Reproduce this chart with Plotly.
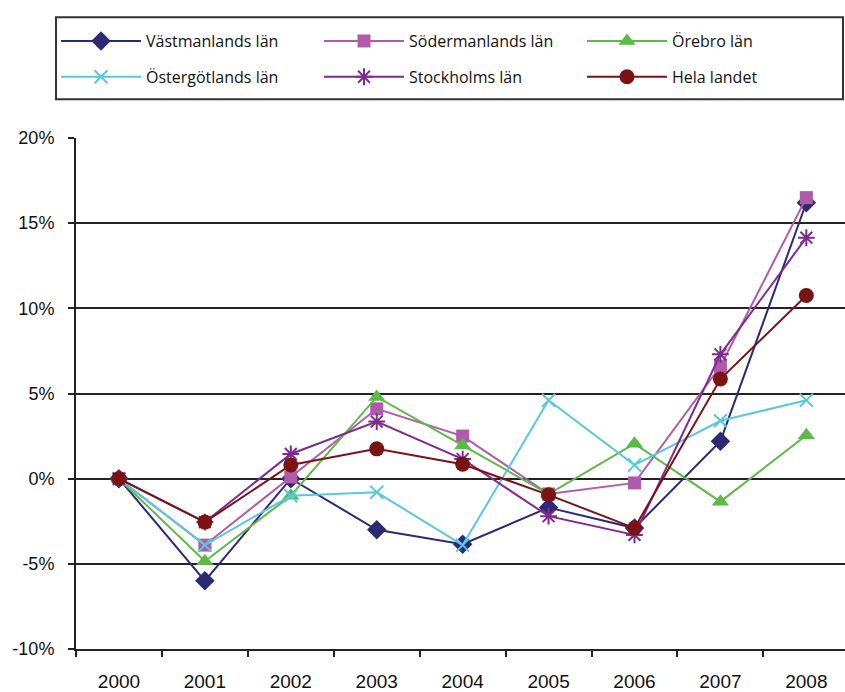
import plotly.graph_objects as go

years = ["2000", "2001", "2002", "2003", "2004", "2005", "2006", "2007", "2008"]

vastmanland = [0, -6.0, 0.0, -3.0, -3.85, -1.7, -2.9, 2.2, 16.2]
sodermanland = [0, -3.9, 0.1, 4.1, 2.5, -0.9, -0.25, 6.6, 16.5]
orebro = [0, -4.85, -1.0, 4.8, 1.95, -0.9, 2.05, -1.35, 2.55]
ostergotland = [0, -3.9, -1.0, -0.8, -3.9, 4.6, 0.8, 3.4, 4.6]
stockholm = [0, -2.55, 1.45, 3.35, 1.15, -2.2, -3.3, 7.3, 14.15]
hela_landet = [0, -2.55, 0.8, 1.75, 0.85, -0.95, -2.9, 5.85, 10.75]

y_ticks = [-10, -5, 0, 5, 10, 15, 20]
y_tick_labels = ["-10%", "-5%", "0%", "5%", "10%", "15%", "20%"]

series = [
    ("Västmanlands län", vastmanland, "#2C2A72", "diamond", 15, "legend"),
    ("Södermanlands län", sodermanland, "#B05BAA", "square", 13, "legend"),
    ("Örebro län", orebro, "#5DBA47", "triangle-up", 15, "legend"),
    ("Östergötlands län", ostergotland, "#5BC7DD", "x-thin", 13, "legend2"),
    ("Stockholms län", stockholm, "#7E2A90", "asterisk", 14, "legend2"),
    ("Hela landet", hela_landet, "#7B1315", "circle", 15, "legend2"),
]

fig = go.Figure()
for name, vals, color, sym, size, leg in series:
    if sym in ("x-thin", "asterisk"):
        marker = dict(symbol=sym, size=size, color=color, line=dict(color=color, width=2))
    else:
        marker = dict(symbol=sym, size=size, color=color, line=dict(width=0))
    fig.add_trace(go.Scatter(
        x=years, y=vals, name=name, mode="lines+markers",
        line=dict(color=color, width=2), marker=marker, legend=leg,
    ))

leg_common = dict(
    orientation="h", xanchor="left", yanchor="middle",
    xref="paper", yref="paper",
    entrywidth=168, entrywidthmode="pixels",
    borderwidth=0, bgcolor="rgba(0,0,0,0)",
    font=dict(family="Open Sans, Liberation Sans, sans-serif", size=16, color="#111"),
    itemwidth=80,
)

fig.update_layout(
    width=845, height=692,
    margin=dict(l=76, r=0, t=138, b=37),
    paper_bgcolor="white", plot_bgcolor="white",
    font=dict(family="Liberation Sans, Arial, sans-serif", size=18, color="#111"),
    legend=dict(x=-0.001, y=1.1897, **leg_common),
    legend2=dict(x=-0.001, y=1.1197, **leg_common),
    showlegend=True,
    shapes=[dict(
        type="rect", xref="paper", yref="paper",
        x0=-0.026, x1=0.9974, y0=1.0760, y1=1.2363,
        line=dict(color="#333", width=2), fillcolor="rgba(0,0,0,0)", layer="above",
    )],
)

fig.update_xaxes(
    type="category", range=[-0.5, 8.45],
    tickson="boundaries", ticks="outside", ticklen=6, tickwidth=2, tickcolor="#222",
    showline=True, linecolor="#222", linewidth=2, showgrid=False, zeroline=False,
    tickfont=dict(size=19), ticklabelstandoff=14, tickangle=0,
)
fig.update_yaxes(
    range=[-10, 20], tickvals=y_ticks, ticktext=y_tick_labels,
    ticks="outside", ticklen=6, tickwidth=2, tickcolor="#222",
    showline=True, linecolor="#222", linewidth=2,
    showgrid=True, gridcolor="#222", gridwidth=2, zeroline=False,
    tickfont=dict(size=18), ticklabelstandoff=10,
)

fig.write_html(
    "out.html",
    config={"displayModeBar": False},
    post_script="document.body.style.margin='0';document.body.style.overflow='hidden';",
)
